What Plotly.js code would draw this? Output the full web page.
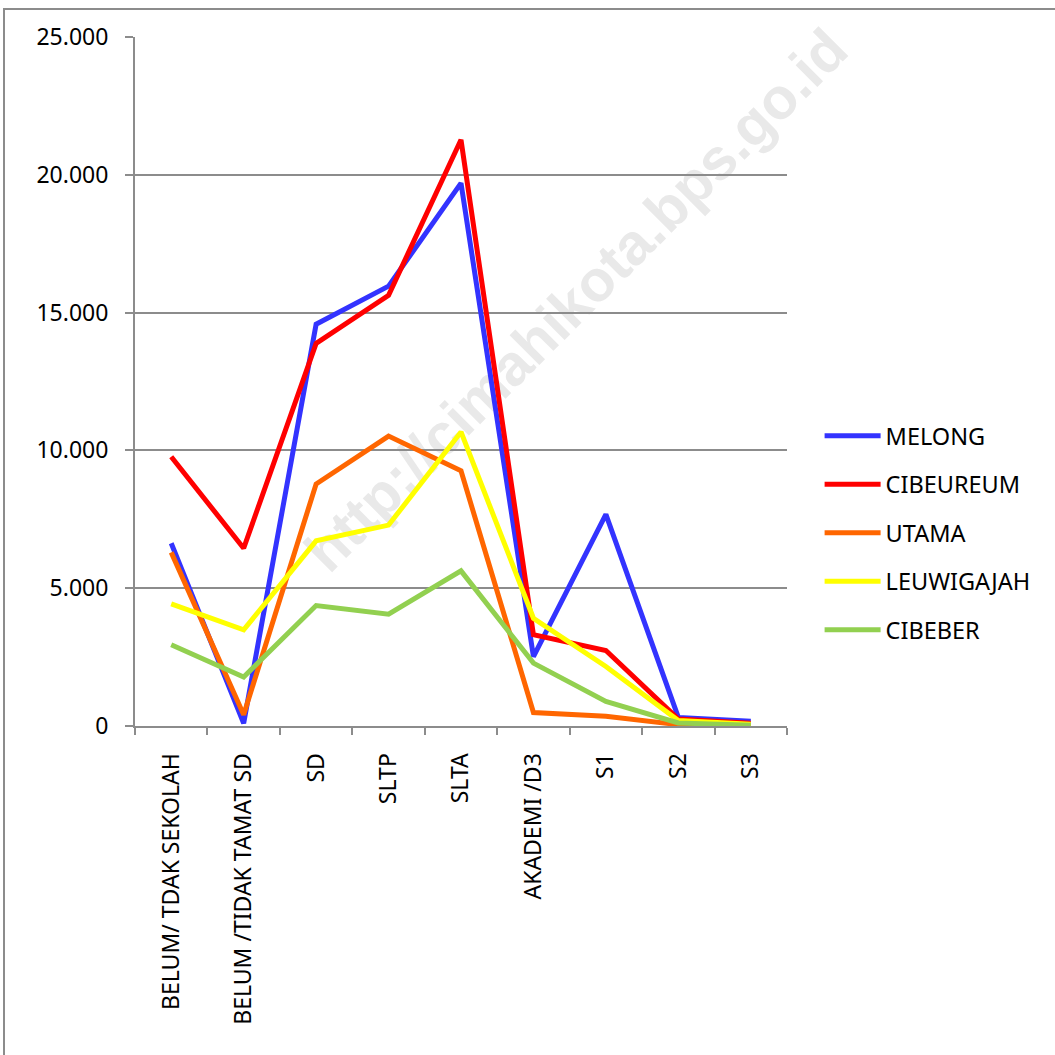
<!DOCTYPE html>
<html>
<head>
<meta charset="utf-8">
<script src="https://cdn.plot.ly/plotly-3.0.1.min.js"></script>
<style>
  html, body { margin: 0; padding: 0; background: #ffffff; overflow: hidden; }
  #wrap { position: relative; width: 1055px; height: 1055px; }
  #frame { position: absolute; left: 3px; top: 8px; width: 1100px; height: 1100px;
           border-left: 2px solid #8c8c8c; border-top: 2px solid #8c8c8c; box-sizing: border-box; }
  #wm { position: absolute; left: 576px; top: 300px; transform: translate(-50%, -50%) rotate(-45deg);
        font-family: "Liberation Sans", Arial, sans-serif; font-weight: bold; font-size: 58px;
        line-height: 1; color: #e9e9e9; white-space: nowrap; }
  #chart { position: absolute; left: 0; top: 0; width: 1055px; height: 1055px; }
</style>
</head>
<body>
<div id="wrap">
  <div id="frame"></div>
  <div id="wm">http://cimahikota.bps.go.id</div>
  <div id="chart"></div>
</div>
<script>
const categories = ["BELUM/ TDAK SEKOLAH", "BELUM /TIDAK TAMAT SD", "SD", "SLTP", "SLTA", "AKADEMI /D3", "S1", "S2", "S3"];
const melong     = [6630, 100, 14580, 15960, 19700, 2520, 7680, 310, 170];
const cibeureum  = [9770, 6450, 13880, 15630, 21270, 3310, 2740, 250, 100];
const utama      = [6300, 410, 8780, 10520, 9260, 490, 350, 50, 30];
const leuwigajah = [4430, 3490, 6720, 7290, 10670, 3910, 2160, 200, 60];
const cibeber    = [2950, 1780, 4370, 4060, 5630, 2280, 890, 110, 30];
const yTicks = [0, 5000, 10000, 15000, 20000, 25000];

const seriesNames  = ["MELONG", "CIBEUREUM", "UTAMA", "LEUWIGAJAH", "CIBEBER"];
const seriesValues = [melong, cibeureum, utama, leuwigajah, cibeber];
const seriesColors = ["#3333FF", "#FF0000", "#FF6600", "#FFFF00", "#92D050"];

const traces = seriesNames.map((name, i) => ({
  type: "scatter",
  mode: "lines",
  name: name,
  legendgroup: name,
  x: categories,
  y: seriesValues[i],
  line: { color: seriesColors[i], width: 5 }
}));

const gridColor = "#8c8c8c";
const layout = {
  width: 1055,
  height: 1055,
  margin: { l: 135, r: 268, t: 37, b: 329 },
  paper_bgcolor: "rgba(0,0,0,0)",
  plot_bgcolor: "rgba(0,0,0,0)",
  separators: ",.",
  font: { family: "Noto Sans, sans-serif", size: 23, color: "#000000" },
  showlegend: true,
  legend: {
    x: 1.05, xanchor: "left",
    y: 0.453, yanchor: "top",
    tracegroupgap: 15,
    itemwidth: 56,
    font: { family: "Noto Sans, sans-serif", size: 23.5, color: "#000000" },
    bgcolor: "rgba(0,0,0,0)"
  },
  xaxis: {
    type: "category",
    range: [-0.5, 8.5],
    tickson: "boundaries",
    ticks: "outside",
    ticklen: 7,
    tickwidth: 2,
    tickcolor: gridColor,
    showline: true,
    linecolor: gridColor,
    linewidth: 2,
    showgrid: false,
    tickangle: -90,
    ticklabelstandoff: 16,
    tickfont: { family: "Noto Sans, sans-serif", size: 23, color: "#000000" },
    fixedrange: true
  },
  yaxis: {
    range: [0, 25000],
    tickvals: yTicks,
    tickformat: ",d",
    ticks: "outside",
    ticklen: 8,
    tickwidth: 2,
    tickcolor: gridColor,
    showline: true,
    linecolor: gridColor,
    linewidth: 2,
    showgrid: true,
    gridcolor: gridColor,
    gridwidth: 2,
    zeroline: false,
    ticklabelstandoff: 12,
    tickfont: { family: "Noto Sans, sans-serif", size: 23, color: "#000000" },
    fixedrange: true
  }
};

Plotly.newPlot("chart", traces, layout, { displayModeBar: false, staticPlot: true });
</script>
</body>
</html>
